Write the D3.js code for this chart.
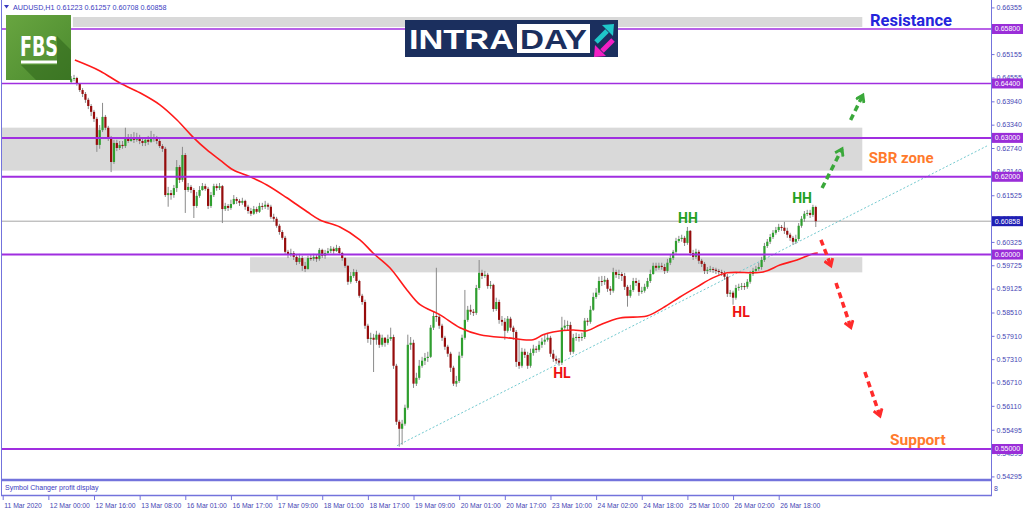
<!DOCTYPE html>
<html><head><meta charset="utf-8">
<script src="https://cdn.jsdelivr.net/npm/d3@7"></script>
<style>body{margin:0;background:#fff;overflow:hidden}svg{display:block}</style>
</head><body><svg id="c" width="1024" height="511"></svg>
<script>
// ---------- DATA ----------
const firstIndex = 24;          // bar index of first visible candle (index 0 = 11 Mar 2020 08:00)
const firstOpen = 0.6444;
const closes = [0.6452,0.6454,0.6439,0.6423,0.6413,0.6398,0.6382,0.6367,0.6349,0.6282,0.6320,0.6354,0.6326,0.6300,0.6238,0.6287,0.6274,0.6282,0.6279,0.6300,
0.6292,0.6300,0.6295,0.6302,0.6292,0.6287,0.6295,0.6290,0.6302,0.6297,0.6292,0.6279,0.6272,0.6153,0.6158,0.6153,0.6171,0.6225,0.6192,0.6256,
0.6166,0.6174,0.6166,0.6125,0.6151,0.6166,0.6176,0.6169,0.6125,0.6153,0.6176,0.6171,0.6176,0.6117,0.6125,0.6120,0.6130,0.6143,0.6138,0.6133,
0.6138,0.6123,0.6112,0.6105,0.6117,0.6110,0.6125,0.6123,0.6128,0.6123,0.6097,0.6092,0.6074,0.6058,0.6043,0.6007,0.5999,0.6004,0.5994,0.5981,
0.5991,0.5971,0.5963,0.5991,0.5989,0.5994,0.5989,0.6012,0.5997,0.6004,0.6009,0.6015,0.6009,0.6017,0.6004,0.5991,0.5971,0.5930,0.5945,0.5955,
0.5932,0.5894,0.5878,0.5817,0.5783,0.5786,0.5781,0.5794,0.5768,0.5786,0.5773,0.5783,0.5788,0.5714,0.5570,0.5552,0.5565,0.5606,0.5768,0.5773,
0.5668,0.5683,0.5714,0.5727,0.5734,0.5737,0.5812,0.5842,0.5840,0.5817,0.5786,0.5763,0.5745,0.5709,0.5668,0.5675,0.5740,0.5786,0.5832,0.5858,
0.5853,0.5850,0.5914,0.5953,0.5945,0.5948,0.5919,0.5922,0.5860,0.5878,0.5832,0.5827,0.5804,0.5835,0.5812,0.5801,0.5724,0.5714,0.5750,0.5742,
0.5714,0.5747,0.5758,0.5755,0.5768,0.5776,0.5781,0.5786,0.5745,0.5732,0.5727,0.5722,0.5812,0.5817,0.5819,0.5750,0.5786,0.5788,0.5786,0.5788,
0.5830,0.5827,0.5858,0.5891,0.5902,0.5932,0.5930,0.5935,0.5912,0.5907,0.5955,0.5948,0.5950,0.5945,0.5917,0.5894,0.5909,0.5932,0.5927,0.5904,
0.5907,0.5917,0.5932,0.5950,0.5971,0.5966,0.5971,0.5968,0.5958,0.5979,0.5991,0.6007,0.6035,0.6040,0.6043,0.6030,0.6061,0.6004,0.5994,0.6007,
0.5984,0.5976,0.5958,0.5961,0.5963,0.5961,0.5958,0.5955,0.5953,0.5943,0.5899,0.5902,0.5889,0.5914,0.5917,0.5919,0.5917,0.5930,0.5950,0.5958,
0.5963,0.5968,0.5986,0.6022,0.6033,0.6045,0.6056,0.6063,0.6071,0.6069,0.6061,0.6051,0.6043,0.6033,0.6040,0.6074,0.6092,0.6105,0.6107,0.6102,
0.61223,0.60858];
const highs = [0.6459,0.6462,0.6457,0.6441,0.6428,0.6418,0.6403,0.6387,0.6372,0.6354,0.6333,0.6390,0.6359,0.6331,0.6305,0.6295,0.6295,0.6292,0.6292,0.6326,
0.6310,0.6310,0.6315,0.6313,0.6308,0.6300,0.6302,0.6305,0.6318,0.6310,0.6305,0.6297,0.6284,0.6277,0.6174,0.6166,0.6179,0.6243,0.6230,0.6277,
0.6261,0.6184,0.6179,0.6171,0.6161,0.6176,0.6184,0.6182,0.6174,0.6161,0.6182,0.6182,0.6184,0.6179,0.6133,0.6130,0.6141,0.6153,0.6148,0.6143,
0.6146,0.6141,0.6128,0.6120,0.6125,0.6123,0.6133,0.6133,0.6138,0.6133,0.6128,0.6105,0.6097,0.6079,0.6063,0.6048,0.6012,0.6015,0.6009,0.5999,
0.6002,0.5997,0.5981,0.5997,0.5999,0.6002,0.5999,0.6017,0.6015,0.6012,0.6017,0.6022,0.6020,0.6025,0.6022,0.6007,0.5994,0.5973,0.5955,0.5963,
0.5961,0.5935,0.5899,0.5884,0.5822,0.5799,0.5796,0.5804,0.5799,0.5794,0.5788,0.5794,0.5812,0.5794,0.5719,0.5575,0.5575,0.5614,0.5794,0.5788,
0.5781,0.5696,0.5729,0.5737,0.5747,0.5750,0.5819,0.5853,0.5966,0.5848,0.5822,0.5791,0.5768,0.5750,0.5714,0.5688,0.5750,0.5794,0.5909,0.5868,
0.5871,0.5860,0.5922,0.5986,0.5961,0.5958,0.5953,0.5932,0.5925,0.5889,0.5884,0.5842,0.5837,0.5842,0.5840,0.5817,0.5806,0.5781,0.5760,0.5758,
0.5750,0.5758,0.5768,0.5765,0.5778,0.5786,0.5794,0.5796,0.5791,0.5755,0.5740,0.5734,0.5840,0.5832,0.5830,0.5827,0.5796,0.5799,0.5796,0.5799,
0.5837,0.5837,0.5868,0.5902,0.5914,0.5943,0.5945,0.5945,0.5940,0.5919,0.5966,0.5961,0.5961,0.5955,0.5953,0.5922,0.5922,0.5940,0.5940,0.5935,
0.5917,0.5925,0.5940,0.5961,0.5979,0.5979,0.5979,0.5979,0.5976,0.5989,0.5999,0.6012,0.6043,0.6048,0.6051,0.6048,0.6071,0.6063,0.6012,0.6015,
0.6012,0.5989,0.5981,0.5968,0.5971,0.5968,0.5966,0.5963,0.5961,0.5958,0.5950,0.5909,0.5907,0.5922,0.5925,0.5927,0.5927,0.5937,0.5958,0.5966,
0.5971,0.5979,0.5994,0.6030,0.6040,0.6053,0.6063,0.6071,0.6079,0.6076,0.6084,0.6069,0.6056,0.6048,0.6051,0.6081,0.6099,0.6112,0.6115,0.6115,
0.6128,0.61257];
const lows = [0.6439,0.6446,0.6434,0.6418,0.6405,0.6390,0.6374,0.6356,0.6341,0.6264,0.6272,0.6315,0.6320,0.6292,0.6212,0.6233,0.6266,0.6269,0.6272,0.6274,
0.6287,0.6290,0.6287,0.6290,0.6284,0.6279,0.6279,0.6282,0.6287,0.6290,0.6284,0.6274,0.6264,0.6148,0.6123,0.6141,0.6146,0.6161,0.6184,0.6187,
0.6107,0.6161,0.6158,0.6094,0.6120,0.6146,0.6164,0.6164,0.6117,0.6120,0.6148,0.6164,0.6166,0.6081,0.6112,0.6112,0.6115,0.6128,0.6130,0.6125,
0.6128,0.6115,0.6105,0.6099,0.6102,0.6105,0.6107,0.6115,0.6117,0.6115,0.6092,0.6084,0.6069,0.6051,0.6038,0.6002,0.5991,0.5994,0.5986,0.5973,
0.5976,0.5958,0.5955,0.5961,0.5984,0.5984,0.5981,0.5984,0.5991,0.5989,0.5999,0.6004,0.6002,0.6007,0.5999,0.5984,0.5966,0.5922,0.5925,0.5940,
0.5927,0.5889,0.5871,0.5809,0.5773,0.5768,0.5698,0.5768,0.5760,0.5763,0.5763,0.5768,0.5778,0.5706,0.5562,0.5506,0.5511,0.5560,0.5601,0.5755,
0.5657,0.5662,0.5678,0.5709,0.5716,0.5724,0.5734,0.5806,0.5827,0.5809,0.5778,0.5755,0.5737,0.5698,0.5662,0.5660,0.5670,0.5734,0.5781,0.5827,
0.5845,0.5842,0.5845,0.5909,0.5937,0.5940,0.5912,0.5912,0.5853,0.5855,0.5822,0.5817,0.5781,0.5799,0.5804,0.5781,0.5711,0.5706,0.5709,0.5734,
0.5706,0.5709,0.5740,0.5747,0.5750,0.5760,0.5768,0.5776,0.5737,0.5724,0.5719,0.5714,0.5716,0.5804,0.5806,0.5742,0.5745,0.5778,0.5776,0.5778,
0.5783,0.5817,0.5822,0.5855,0.5886,0.5896,0.5919,0.5922,0.5904,0.5896,0.5902,0.5940,0.5937,0.5932,0.5909,0.5866,0.5889,0.5904,0.5919,0.5894,
0.5899,0.5902,0.5912,0.5927,0.5948,0.5958,0.5961,0.5961,0.5950,0.5953,0.5973,0.5986,0.6002,0.6030,0.6033,0.6022,0.6025,0.5997,0.5986,0.5989,
0.5976,0.5968,0.5950,0.5950,0.5955,0.5953,0.5950,0.5948,0.5945,0.5935,0.5891,0.5891,0.5871,0.5884,0.5907,0.5909,0.5909,0.5912,0.5925,0.5945,
0.5953,0.5958,0.5961,0.5981,0.6017,0.6027,0.6040,0.6051,0.6058,0.6061,0.6053,0.6043,0.6035,0.6025,0.6027,0.6035,0.6069,0.6084,0.6099,0.6094,
0.6097,0.60708];
// moving average (bar index, price)
const maIdx = [25.3,34.1,41.1,48.1,55.1,61.1,66.7,71.6,76.2,80.7,86.7,92.6,99.6,106.7,111.2,118.2,125.2,129.8,135.7,141.7,146.3,153.3,160.3,167.3,176.8,185.9,189.4,192.9,199.9,204.8,209.3,216.4,225.8,231.4,237.4,243.4,248.9,253.9,266.5,272.4,278.4,284.0,285.7];
const maVal = [0.6500,0.6472,0.6441,0.6416,0.6385,0.6346,0.6302,0.6269,0.6243,0.6218,0.6200,0.6179,0.6146,0.6110,0.6089,0.6071,0.6038,0.6004,0.5966,0.5909,0.5871,0.5845,0.5812,0.5794,0.5786,0.5781,0.5794,0.5801,0.5806,0.5804,0.5819,0.5837,0.5842,0.5863,0.5891,0.5917,0.5940,0.5953,0.5955,0.5973,0.5986,0.6002,0.6004];
// axes
const timeTickIdx = [0,16,32,48,64,80,96,112,128,144,160,176,192,208,224,240,256,272];
const timeLabels = ["11 Mar 2020","12 Mar 00:00","12 Mar 16:00","13 Mar 08:00","16 Mar 01:00","16 Mar 17:00","17 Mar 09:00","18 Mar 01:00","18 Mar 17:00","19 Mar 09:00","20 Mar 01:00","20 Mar 17:00","23 Mar 10:00","24 Mar 02:00","24 Mar 18:00","25 Mar 10:00","26 Mar 02:00","26 Mar 18:00"];
const priceTicks = [0.66355,0.65755,0.65155,0.64555,0.63940,0.63340,0.62740,0.62140,0.61525,0.60925,0.60325,0.59725,0.59125,0.58510,0.57910,0.57310,0.56710,0.56110,0.55495,0.54895,0.54295];
// drawn objects
const levels = [0.658,0.644,0.630,0.620,0.600,0.550];
const currentPrice = 0.60858;
const zoneStart = [24.6,-2,86.7];
const zoneEnd = [301.3,301.3,301.3];
const zoneTop = [0.66108,0.63263,0.59932];
const zoneBottom = [0.65851,0.62158,0.59542];
const trendIdx = [138.2,345];
const trendVal = [0.55083,0.62793];
const greenArrows = [[[287.2,0.6171],[294.2,0.6272]],[[297.2,0.6346],[301.5,0.6410]]];
const redArrows = [[[286.8,0.6038],[290.3,0.5971]],[[292.1,0.5927],[297.3,0.5812]],[[302.2,0.5698],[307.5,0.5585]]];
const labelText = ["HH","HH","HL","HL"];
const labelIdx = [240.2,280.2,196.0,258.8];
const labelVal = [0.60943,0.61456,0.56959,0.58527];
const labelColor = ["#22a022","#22a022","#ee1111","#ee1111"];

// ---------- CHART ----------
const svg = d3.select('#c');
const axisX = 991, mainBottom = 479;
const x = d3.scaleLinear().domain([0,272]).range([2.7,778.7]);
const y = d3.scaleLinear().domain([0.55,0.658]).range([449,29]);
const frame = '#7373dc', axisText = '#4646b4';

const defs = svg.append('defs');
defs.append('clipPath').attr('id','plot').append('rect').attr('x',2).attr('y',0).attr('width',axisX-2).attr('height',mainBottom);
function marker(id,col){
  defs.append('marker').attr('id',id).attr('viewBox','0 0 10 10').attr('refX',7).attr('refY',5)
    .attr('markerWidth',11).attr('markerHeight',11).attr('markerUnits','userSpaceOnUse').attr('orient','auto')
    .append('path').attr('d','M1,1 L7,5 L1,9').attr('fill','none').attr('stroke',col).attr('stroke-width',2.6);
}
marker('ag','#3aa83a'); marker('ar','#ff2b2b');
const gr = defs.append('linearGradient').attr('id','fbsg').attr('x1',0).attr('y1',0).attr('x2',1).attr('y2',1);
gr.append('stop').attr('offset','0').attr('stop-color','#68a540');
gr.append('stop').attr('offset','1').attr('stop-color','#4b8a2e');

svg.append('rect').attr('width',1024).attr('height',511).attr('fill','#fff');
const g = svg.append('g').attr('clip-path','url(#plot)');

// zones
g.selectAll('rect.zone').data(zoneStart).join('rect').attr('class','zone')
  .attr('x',(d,i)=>x(d)).attr('width',(d,i)=>x(zoneEnd[i])-x(d))
  .attr('y',(d,i)=>y(zoneTop[i])).attr('height',(d,i)=>y(zoneBottom[i])-y(zoneTop[i]))
  .attr('fill','#d9d9d9');

// current price line
g.append('line').attr('x1',2).attr('x2',axisX).attr('y1',y(currentPrice)).attr('y2',y(currentPrice)).attr('stroke','#a6a6a6').attr('stroke-width',1);

// trend line
g.append('path').datum(trendIdx.map((d,i)=>[d,trendVal[i]]))
  .attr('d',d3.line().x(d=>x(d[0])).y(d=>y(d[1])))
  .attr('stroke','#72c9cf').attr('stroke-width',1).attr('stroke-dasharray','2,2').attr('fill','none');

// candles
const bars = closes.map((c,k)=>({i:firstIndex+k,o:k?closes[k-1]:firstOpen,h:highs[k],l:lows[k],c}));
g.selectAll('line.wick').data(bars).join('line').attr('class','wick')
  .attr('x1',d=>x(d.i)).attr('x2',d=>x(d.i)).attr('y1',d=>y(d.h)).attr('y2',d=>y(d.l))
  .attr('stroke','#8a8a8a').attr('stroke-width',1);
g.selectAll('rect.body').data(bars).join('rect').attr('class','body')
  .attr('x',d=>x(d.i)-1.1).attr('width',2.2)
  .attr('y',d=>y(Math.max(d.o,d.c))).attr('height',d=>Math.max(1,Math.abs(y(d.o)-y(d.c))))
  .attr('fill',d=>d.c>=d.o?'#2f9f2f':'#960c0c');

// moving average
g.append('path').datum(maIdx.map((d,i)=>[d,maVal[i]]))
  .attr('d',d3.line().x(d=>x(d[0])).y(d=>y(d[1])).curve(d3.curveCatmullRom))
  .attr('stroke','#ff1a1a').attr('stroke-width',1.6).attr('fill','none');

// levels
g.selectAll('line.lvl').data(levels).join('line').attr('class','lvl')
  .attr('x1',2).attr('x2',axisX).attr('y1',d=>y(d)).attr('y2',d=>y(d))
  .attr('stroke','#a02ee0').attr('stroke-width',(d,i)=>i<2?1.5:2);

// arrows
const aline = d3.line().x(d=>x(d[0])).y(d=>y(d[1]));
g.selectAll('path.ga').data(greenArrows).join('path').attr('class','ga').attr('d',aline)
  .attr('stroke','#3aa83a').attr('stroke-width',3.5).attr('stroke-dasharray','6,4').attr('fill','none').attr('marker-end','url(#ag)');
g.selectAll('path.ra').data(redArrows).join('path').attr('class','ra').attr('d',aline)
  .attr('stroke','#ff2b2b').attr('stroke-width',3.5).attr('stroke-dasharray','6,4').attr('fill','none').attr('marker-end','url(#ar)');

// HH / HL labels
g.selectAll('text.hl').data(labelText).join('text').attr('class','hl')
  .attr('x',(d,i)=>x(labelIdx[i])).attr('y',(d,i)=>y(labelVal[i])).attr('dy','0.36em')
  .attr('text-anchor','middle').attr('font-family','Roboto, sans-serif').attr('font-weight',700).attr('font-size',14)
  .attr('fill',(d,i)=>labelColor[i]).text(d=>d);

// big annotations
const ann = [{t:'Resistance',i:303.99,p:0.66031,c:'#2424dc',s:16.5},{t:'SBR zone',i:303.6,p:0.62497,c:'#ff7a2c',s:15},{t:'Support',i:311.0,p:0.55237,c:'#ff7a2c',s:15.5}];
g.selectAll('text.ann').data(ann).join('text').attr('class','ann')
  .attr('x',d=>x(d.i)).attr('y',d=>y(d.p)).attr('dy','0.36em')
  .attr('font-family','Roboto, sans-serif').attr('font-weight',700).attr('font-size',d=>d.s)
  .attr('fill',d=>d.c).text(d=>d.t);

// FBS logo
const fbs = svg.append('g');
fbs.append('rect').attr('x',6).attr('y',15).attr('width',65).attr('height',65).attr('fill','url(#fbsg)');
fbs.append('path').attr('d','M57,36 L71,50 L71,80 L36,80 L21,65 L57,65 Z').attr('fill','#2f661c').attr('opacity',0.55);
fbs.append('text').attr('x',20).attr('y',56).attr('fill','#fff').attr('font-family','DejaVu Sans Condensed, DejaVu Sans, sans-serif')
  .attr('font-weight',700).attr('font-size',27).attr('textLength',38).attr('lengthAdjust','spacingAndGlyphs').text('FBS');
fbs.append('rect').attr('x',21).attr('y',60.5).attr('width',36).attr('height',3).attr('fill','#fff');

// INTRADAY logo
const il = svg.append('g');
il.append('rect').attr('x',405).attr('y',20).attr('width',213).attr('height',37).attr('fill','#1b2f5e');
il.append('rect').attr('x',517).attr('y',24).attr('width',73).attr('height',29).attr('fill','#fff');
il.append('text').attr('x',409).attr('y',48.5).attr('fill','#fff').attr('font-family','Liberation Sans, Arial, sans-serif')
  .attr('font-weight',700).attr('font-size',28).attr('textLength',105).attr('lengthAdjust','spacingAndGlyphs').text('INTRA');
il.append('text').attr('x',520).attr('y',48.5).attr('fill','#1b2f5e').attr('font-family','Liberation Sans, Arial, sans-serif')
  .attr('font-weight',700).attr('font-size',28).attr('textLength',67).attr('lengthAdjust','spacingAndGlyphs').text('DAY');
il.append('line').attr('x1',596).attr('y1',42).attr('x2',607).attr('y2',31).attr('stroke','#1fc7c9').attr('stroke-width',5);
il.append('path').attr('d','M602,25 L614,24 L613,36 Z').attr('fill','#1fc7c9');
il.append('line').attr('x1',613).attr('y1',40).attr('x2',602).attr('y2',51).attr('stroke','#f21fc4').attr('stroke-width',5);
il.append('path').attr('d','M595,45 L594,57 L606,56 Z').attr('fill','#f21fc4');

// frame
const fr = svg.append('g').attr('stroke',frame).attr('fill','none');
fr.append('line').attr('x1',1.5).attr('x2',1.5).attr('y1',0).attr('y2',496);
fr.append('line').attr('x1',axisX+0.5).attr('x2',axisX+0.5).attr('y1',0).attr('y2',496);
fr.append('line').attr('x1',1).attr('x2',axisX).attr('y1',480).attr('y2',480).attr('stroke-width',2.5);
fr.append('line').attr('x1',1).attr('x2',axisX+1).attr('y1',495.5).attr('y2',495.5).attr('stroke-width',1.5);

// header & subwindow text
svg.append('path').attr('d','M4,5 L9,5 L6.5,8.5 Z').attr('fill','#3a3ac0');
svg.append('text').attr('x',13).attr('y',9.5).attr('font-family','Liberation Sans, Arial, sans-serif').attr('font-size',7.2)
  .attr('fill','#3a3ac0').text('AUDUSD,H1  0.61223 0.61257 0.60708 0.60858');
svg.append('text').attr('x',5).attr('y',490).attr('font-family','Liberation Sans, Arial, sans-serif').attr('font-size',7)
  .attr('fill','#3a3ac0').text('Symbol Changer profit display');
svg.append('text').attr('x',994).attr('y',491).attr('font-family','Liberation Sans, Arial, sans-serif').attr('font-size',7)
  .attr('fill',axisText).text('8');

// price axis
const ya = svg.append('g').attr('transform',`translate(${axisX+0.5},0)`)
  .call(d3.axisRight(y).tickValues(priceTicks).tickFormat(d3.format('.5f')).tickSize(3).tickPadding(2));
ya.select('.domain').remove();
ya.selectAll('line').attr('stroke',frame);
ya.selectAll('text').attr('fill',axisText).attr('font-family','Liberation Sans, Arial, sans-serif').attr('font-size',7);

// price boxes
const boxes = levels.map(v=>({v,c:'#9a2ed8'})).concat([{v:currentPrice,c:'#1f1fb4'}]);
const bx = svg.selectAll('g.box').data(boxes).join('g').attr('class','box');
bx.append('rect').attr('x',axisX+1).attr('width',31).attr('y',d=>y(d.v)-5).attr('height',10).attr('fill',d=>d.c);
bx.append('text').attr('x',axisX+16.5).attr('y',d=>y(d.v)).attr('dy','0.35em').attr('text-anchor','middle')
  .attr('fill','#fff').attr('font-family','Liberation Sans, Arial, sans-serif').attr('font-size',7).text(d=>d3.format('.5f')(d.v));

// time axis
const xa = svg.append('g').attr('transform','translate(0,496)')
  .call(d3.axisBottom(x).tickValues(timeTickIdx).tickFormat((d,i)=>timeLabels[i]).tickSize(4).tickPadding(3));
xa.select('.domain').remove();
xa.selectAll('line').attr('stroke',frame);
xa.selectAll('text').attr('text-anchor','start').attr('dx',1).attr('fill',axisText)
  .attr('font-family','Liberation Sans, Arial, sans-serif').attr('font-size',6.8);
</script></body></html>
